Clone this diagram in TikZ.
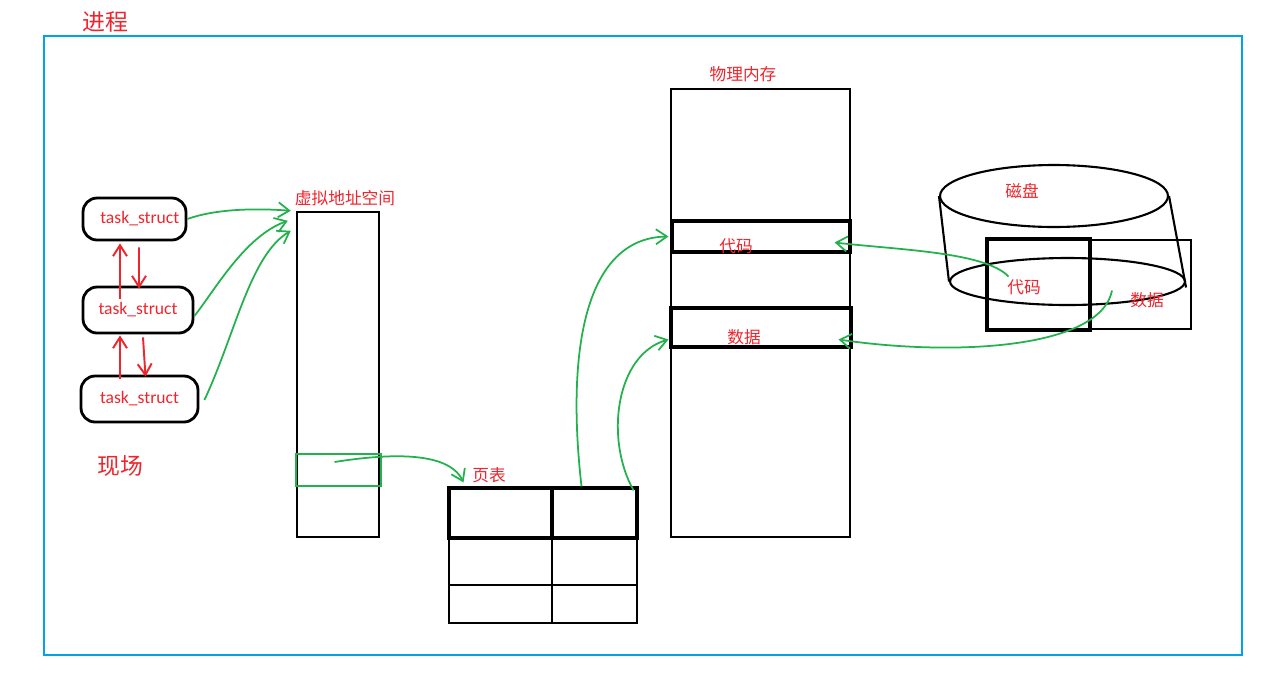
\documentclass[tikz,border=0pt]{standalone}
\usepackage{fontspec}
\setmainfont{Carlito}
\newfontfamily\cjk{Noto Sans CJK SC}
\usepackage{tikz}
\usetikzlibrary{positioning,arrows.meta,calc,shapes.geometric}
\definecolor{procblue}{RGB}{0,162,232}
\definecolor{penred}{RGB}{240,36,44}
\definecolor{pengreen}{RGB}{34,177,76}

\begin{document}
\begin{tikzpicture}[
    x=0.02cm, y=-0.02cm,
    task/.style={draw, line width=1.6pt, rounded corners=8pt, inner sep=0pt,
        text=penred, font=\fontsize{10}{12}\selectfont},
    block/.style={draw, line width=1.1pt, inner sep=0pt},
    band/.style={draw, line width=1.8pt, inner sep=0pt},
    lbl/.style={text=penred, inner sep=0pt, font=\cjk\fontsize{9.5}{11}\selectfont},
    biglbl/.style={text=penred, inner sep=0pt, font=\cjk\fontsize{13}{15}\selectfont},
    rarrow/.style={-{Straight Barb[length=2.2mm, width=2.8mm]}, penred, line width=1.1pt},
    garrow/.style={-{Straight Barb[length=2.2mm, width=3mm]}, pengreen, line width=1pt}
]
\useasboundingbox (0,0) rectangle (1280,677);

% ---- Process frame ----
\node[draw=procblue, line width=1.3pt, inner sep=0pt,
    minimum width=23.96cm, minimum height=12.38cm] (proc) at (643,345.5) {};
\node[biglbl] (proctxt) at (105,22) {进程};
\node[biglbl] (ctx) at (120,466) {现场};

% ---- task_struct list ----
\node[task, minimum width=2.06cm, minimum height=0.84cm] (t1) at (134.5,219) {\hspace{6pt}task\_struct};
\node[task, minimum width=2.2cm, minimum height=0.92cm] (t2) at (138,310) {task\_struct\hspace{10pt}};
\node[task, minimum width=2.34cm, minimum height=0.92cm] (t3) at (139.5,399) {task\_struct};

\draw[rarrow] ($(t2.north)+(-18,13)$) -- ($(t1.south)+(-14.5,2)$);
\draw[rarrow] ($(t1.south)+(4.5,6)$) -- ($(t2.north)+(1,3)$);
\draw[rarrow] ($(t3.north)+(-19.5,4)$) -- ($(t2.south)+(-18,1)$);
\draw[rarrow] ($(t2.south)+(5,3)$) -- ($(t3.north)+(6,2)$);

% ---- Virtual address space ----
\node[block, line width=1.4pt, minimum width=1.64cm, minimum height=6.5cm] (vas) at (338,374.5) {};
\node[lbl, above=0.1cm of vas, xshift=0.14cm] (vastxt) {虚拟地址空间};
\node[draw=pengreen, line width=1.2pt, inner sep=0pt,
    minimum width=1.7cm, minimum height=0.64cm] (vpage) at (338.5,470) {};

\draw[garrow] (t1.east) .. controls (215,209) and (255,208) .. ($(vas.north west)+(-5,0)$);
\draw[garrow] ($(t2.east)+(0,6)$) .. controls (215,290) and (245,236) .. ($(vas.north west)+(-8,10)$);
\draw[garrow] ($(t3.east)+(5,1)$) .. controls (235,335) and (250,255) .. ($(vas.north west)+(-5,20)$);

% ---- Page table ----
\node[block, line width=1.8pt, minimum width=2.06cm, minimum height=1.0cm] (pt11) at (500.5,513) {};
\node[block, line width=1.8pt, minimum width=1.7cm, minimum height=1.0cm] (pt12) at (594.5,513) {};
\node[block, line width=1.4pt, minimum width=2.06cm, minimum height=0.94cm] (pt21) at (500.5,561.5) {};
\node[block, line width=1.4pt, minimum width=1.7cm, minimum height=0.94cm] (pt22) at (594.5,561.5) {};
\node[block, line width=1.4pt, minimum width=2.06cm, minimum height=0.76cm] (pt31) at (500.5,604) {};
\node[block, line width=1.4pt, minimum width=1.7cm, minimum height=0.76cm] (pt32) at (594.5,604) {};
\node[lbl, above=0.06cm of pt11, xshift=-0.23cm] (pttxt) {页表};

\draw[garrow] ($(vpage.center)+(-4,-8)$) .. controls (385,454) and (448,450) .. ($(pt11.north)+(-37,-4)$);

% ---- Physical memory ----
\node[block, minimum width=3.58cm, minimum height=8.96cm] (mem) at (760.5,313) {};
\node[lbl, above=0.12cm of mem, xshift=-0.35cm] (memtxt) {物理内存};
\node[band, minimum width=3.56cm, minimum height=0.62cm] (code) at (761,236.5) {};
\node[lbl] (codetxt) at ($(code.center)+(-25,9.5)$) {代码};
\node[band, minimum width=3.6cm, minimum height=0.78cm] (data) at (761,327.5) {};
\node[lbl] (datatxt) at ($(data.center)+(-17,9.5)$) {数据};

\draw[garrow] ($(pt12.north)+(-13,0)$) .. controls (566,350) and (585,238) .. ($(code.west)+(-2,0)$);
\draw[garrow] ($(pt12.north east)+(-5,4)$) .. controls (605,440) and (615,355) .. ($(data.west)+(-1,12)$);

% ---- Disk ----
\node[draw, ellipse, line width=1.2pt, inner sep=0pt,
    minimum width=4.56cm, minimum height=1.24cm] (disktop) at (1054,196) {};
\node[draw, ellipse, line width=1.2pt, inner sep=0pt,
    minimum width=4.7cm, minimum height=0.94cm] (diskbot) at (1067.5,281.5) {};
\draw[line width=1.2pt] (disktop.west) -- (diskbot.west);
\draw[line width=1.2pt] (disktop.east) -- ($(diskbot.east)+(0,6)$);
\node[lbl] (disktxt) at ($(disktop.center)+(-32,-5)$) {磁盘};

\node[block, line width=1.8pt, minimum width=2.06cm, minimum height=1.82cm] (dcode) at (1038.5,284.5) {};
\node[block, minimum width=2.02cm, minimum height=1.78cm] (ddata) at (1140.5,284.5) {};
\node[lbl] (dcodetxt) at ($(dcode.center)+(-14.5,2.5)$) {代码};
\node[lbl] (ddatatxt) at ($(ddata.center)+(6.5,15.5)$) {数据};

\draw[garrow] ($(dcode.center)+(-30,-8)$) .. controls (985,252) and (900,250) .. ($(code.east)+(-17,6)$);
\draw[garrow] ($(ddata.west)+(23,6)$) .. controls (1100,350) and (950,356) .. ($(data.east)+(-14,12)$);
\end{tikzpicture}
\end{document}
